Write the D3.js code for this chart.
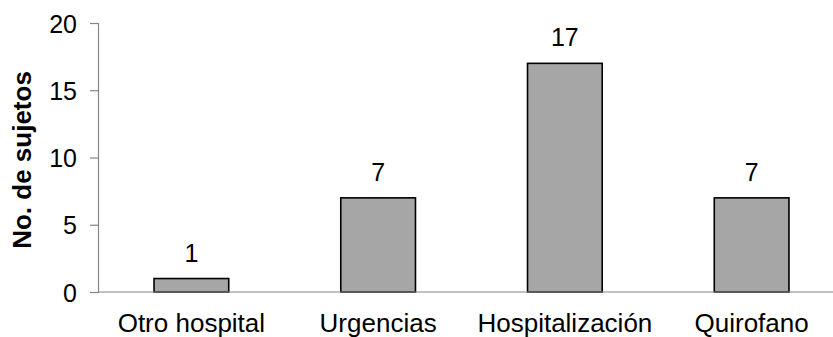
<!DOCTYPE html>
<html>
<head>
<meta charset="utf-8">
<script src="https://cdn.jsdelivr.net/npm/d3@7"></script>
<style>
  html, body { margin: 0; padding: 0; background: #fff; }
  svg text { font-family: "Liberation Sans", Arial, sans-serif; }
</style>
</head>
<body>
<svg id="chart" width="833" height="337"></svg>
<script>
// Patients by place of origin
const categories = ["Otro hospital", "Urgencias", "Hospitalización", "Quirofano"];
const values = [1, 7, 17, 7];
const yTicks = [0, 5, 10, 15, 20];
const yTitle = "No. de sujetos";

const svg = d3.select("#chart");
const plotLeft = 98, plotRight = 845, plotTop = 23, plotBottom = 292;

const x = d3.scaleBand()
  .domain(categories)
  .range([plotLeft, plotRight])
  .paddingInner(0.6)
  .paddingOuter(0.3);

const y = d3.scaleLinear().domain([0, 20]).range([plotBottom, plotTop]);

// y axis
const yAxis = svg.append("g")
  .attr("transform", `translate(${plotLeft},0)`)
  .call(d3.axisLeft(y).tickValues(yTicks).tickSize(8).tickPadding(13).tickFormat(d3.format("d")));
yAxis.select(".domain").attr("stroke", "#868686").attr("stroke-width", 1.2);
yAxis.selectAll(".tick line").attr("stroke", "#868686").attr("stroke-width", 1.2);
yAxis.selectAll(".tick text")
  .attr("font-size", 25).attr("fill", "#000")
  .attr("dy", "0.36em")
  .attr("font-family", "Liberation Sans, Arial, sans-serif");

// bars
svg.append("g").selectAll("rect")
  .data(values)
  .join("rect")
  .attr("x", (d, i) => x(categories[i]))
  .attr("y", d => y(d))
  .attr("width", x.bandwidth())
  .attr("height", d => y(0) - y(d))
  .attr("fill", "#a6a6a6")
  .attr("stroke", "#000")
  .attr("stroke-width", 1.6);

// baseline
svg.append("line")
  .attr("x1", plotLeft).attr("x2", 833)
  .attr("y1", y(0)).attr("y2", y(0))
  .attr("stroke", "#868686").attr("stroke-width", 1.2);

// value labels
svg.append("g").selectAll("text")
  .data(values)
  .join("text")
  .attr("x", (d, i) => x(categories[i]) + x.bandwidth() / 2)
  .attr("y", d => y(d) - 17)
  .attr("text-anchor", "middle")
  .attr("font-size", 25)
  .attr("fill", "#000")
  .text(d => d);

// category labels
svg.append("g").selectAll("text")
  .data(categories)
  .join("text")
  .attr("x", d => x(d) + x.bandwidth() / 2)
  .attr("y", 332)
  .attr("text-anchor", "middle")
  .attr("font-size", 26)
  .attr("fill", "#000")
  .text(d => d);

// y axis title
svg.append("text")
  .attr("transform", `translate(31,160) rotate(-90)`)
  .attr("text-anchor", "middle")
  .attr("font-size", 26)
  .attr("font-weight", "bold")
  .attr("fill", "#000")
  .text(yTitle);
</script>
</body>
</html>
